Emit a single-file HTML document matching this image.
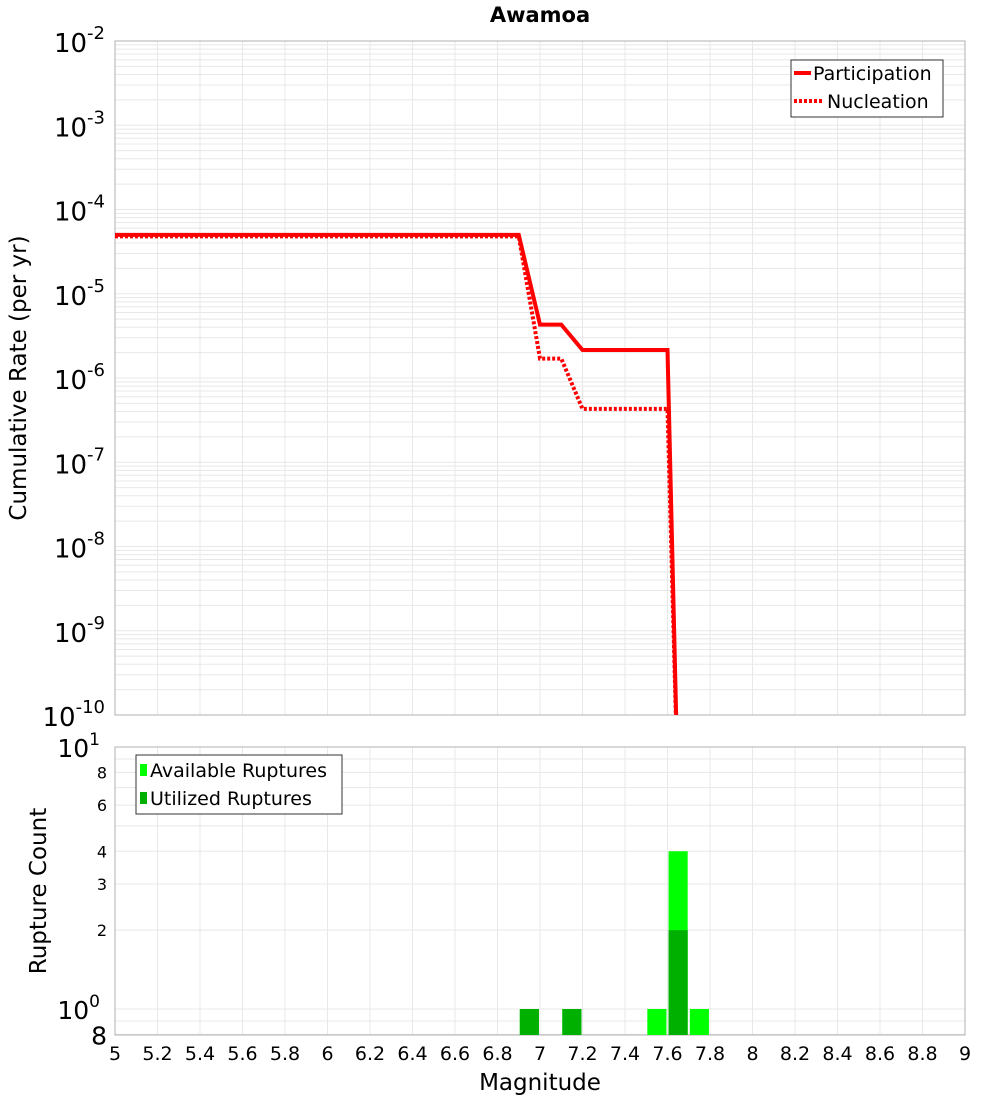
<!DOCTYPE html>
<html><head><meta charset="utf-8"><style>
body{margin:0;background:#fff;font-family:"DejaVu Sans","Liberation Sans",sans-serif}
svg text{font-family:"DejaVu Sans","Liberation Sans",sans-serif}
</style></head><body>
<svg id="chart" width="1000" height="1100" xmlns="http://www.w3.org/2000/svg">
<text x="540" y="22" text-anchor="middle" font-size="21" font-weight="bold">Awamoa</text>
<g id="topGrid"></g><g id="botGrid"></g>
<rect x="115" y="41" width="850" height="674" fill="none" stroke="#b0b0b0"/>
<rect x="115" y="747" width="850" height="288" fill="none" stroke="#b0b0b0"/>
<g id="bars"></g>
<defs><clipPath id="topclip"><rect x="115" y="41" width="850" height="674"/></clipPath></defs>
<g id="lines" clip-path="url(#topclip)"></g>
<g id="labels"></g>
<text transform="translate(26,378) rotate(-90)" text-anchor="middle" font-size="23">Cumulative Rate (per yr)</text>
<text transform="translate(46,891) rotate(-90)" text-anchor="middle" font-size="23">Rupture Count</text>
<text x="540" y="1090" text-anchor="middle" font-size="23">Magnitude</text>
<g>
<rect x="791" y="60" width="152" height="57" fill="#fff" stroke="#333"/>
<line x1="794" y1="73" x2="811" y2="73" stroke="#f00" stroke-width="4"/>
<text x="813" y="80" font-size="19">Participation</text>
<line x1="794" y1="101" x2="822" y2="101" stroke="#f00" stroke-width="4" stroke-dasharray="3,2"/>
<text x="827" y="108" font-size="19">Nucleation</text>
</g>
<g>
<rect x="136" y="755" width="206" height="59" fill="#fff" stroke="#333"/>
<rect x="140" y="764" width="7" height="12" fill="#00ff00"/>
<text x="150" y="777" font-size="19">Available Ruptures</text>
<rect x="140" y="792" width="7" height="12" fill="#00b000"/>
<text x="150" y="805" font-size="19">Utilized Ruptures</text>
</g>
</svg>
<script>
const mags=[5,6.9,7.0,7.1,7.2,7.6,7.65];
const partRates=[5e-5,5e-5,4.3e-6,4.3e-6,2.15e-6,2.15e-6,1e-11];
const nuclRates=[4.8e-5,4.8e-5,1.7e-6,1.7e-6,4.3e-7,4.3e-7,1e-11];
const binCenters=[6.95,7.15,7.55,7.65,7.75];
const availCounts=[1,1,1,4,1];
const usedCounts=[1,1,0,2,0];
const xTicks=[5,5.2,5.4,5.6,5.8,6,6.2,6.4,6.6,6.8,7,7.2,7.4,7.6,7.8,8,8.2,8.4,8.6,8.8,9];
const NS="http://www.w3.org/2000/svg";
const X=m=>115+(m-5)*212.5;
const YT=v=>41+(-2-Math.log10(v))*84.25;
const YB=v=>1009-Math.log10(v)*262;
function mk(tag,attrs,parent){const e=document.createElementNS(NS,tag);for(const k in attrs)e.setAttribute(k,attrs[k]);document.getElementById(parent).appendChild(e);return e;}
for(let d=-10;d<-2;d++){for(let k=1;k<10;k++){const y=YT(k*Math.pow(10,d));const g=mk('line',{x1:115,x2:965,y1:y,y2:y,stroke:'#e8e8e8'},'topGrid');

}}
for(let v=0.8;v<=10.01;v+=(v<0.95?0.1:1)){const y=YB(v);const g=mk('line',{x1:115,x2:965,y1:y,y2:y,stroke:'#e8e8e8'},'botGrid');

}
xTicks.forEach(t=>{['topGrid','botGrid'].forEach((p,i)=>{const g=mk('line',{x1:X(t),x2:X(t),y1:i?747:41,y2:i?1035:715,stroke:'#e8e8e8'},p);

});
const l=mk('text',{x:X(t),y:1060,'text-anchor':'middle','font-size':19},'labels');l.textContent=t;

});
for(let d=-10;d<=-2;d++){const t=mk('text',{x:105,y:YT(Math.pow(10,d))+11,'text-anchor':'end','font-size':26},'labels');
t.innerHTML='10<tspan dy="-13" font-size="18">'+d+'</tspan>';

}
[[10,'10','1'],[8,'8'],[6,'6'],[4,'4'],[3,'3'],[2,'2'],[1,'10','0'],[0.8,'8']].forEach(a=>{const big=a[2]!==undefined||a[0]===0.8;
const t=mk('text',{x:a[2]!==undefined?100:107,y:YB(a[0])+(big?10:6),'text-anchor':'end','font-size':big?25:16},'labels');
t.innerHTML=a[1]+(a[2]!==undefined?'<tspan dy="-12" font-size="17">'+a[2]+'</tspan>':'');

});
function pts(r){return mags.map((m,i)=>X(m)+','+YT(r[i])).join(' ');}
const p1=mk('polyline',{points:pts(partRates),fill:'none',stroke:'#f00','stroke-width':4},'lines');


const p2=mk('polyline',{points:pts(nuclRates),fill:'none',stroke:'#f00','stroke-width':4,'stroke-dasharray':'3,2'},'lines');


const bw=0.09;
binCenters.forEach((c,i)=>{
if(availCounts[i]>0){const y=YB(availCounts[i]);const b=mk('rect',{x:X(c-bw/2),y:y,width:bw*212.5,height:1035-y,fill:'#00ff00'},'bars');

}
if(usedCounts[i]>0){const y=YB(usedCounts[i]);const b=mk('rect',{x:X(c-bw/2),y:y,width:bw*212.5,height:1035-y,fill:'#00b000'},'bars');

}
});
</script>
</body></html>
